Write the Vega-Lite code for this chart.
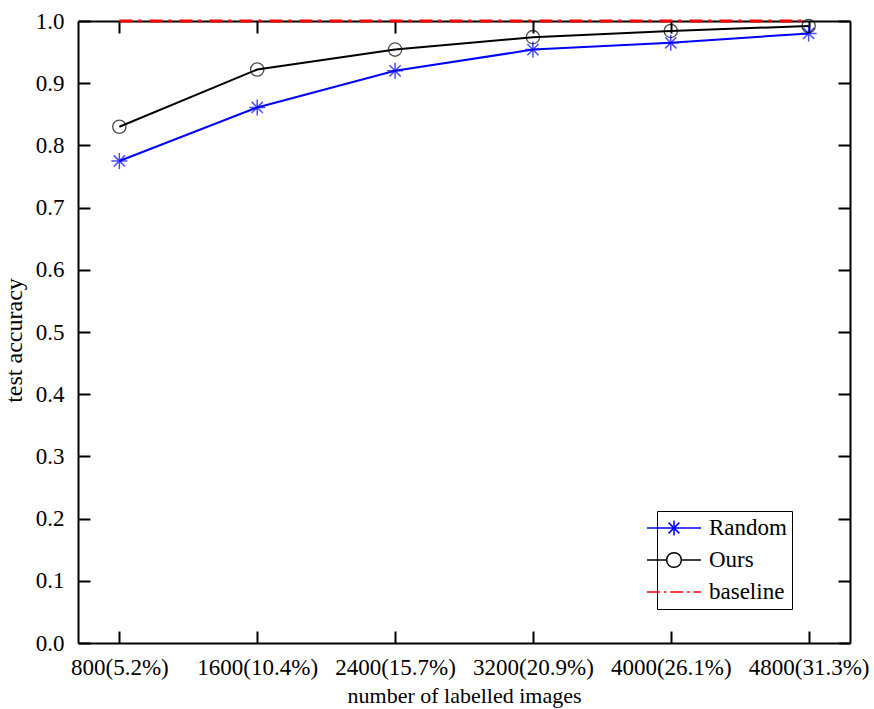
{
  "$schema": "https://vega.github.io/schema/vega-lite/v6.json",
  "width": 772,
  "height": 622,
  "autosize": "none",
  "padding": {"left": 78, "top": 21, "right": 24, "bottom": 66},
  "background": "white",
  "config": {
    "font": "Liberation Serif",
    "view": {"stroke": null},
    "axis": {
      "grid": false,
      "domainColor": "black",
      "domainWidth": 2,
      "tickColor": "black",
      "tickWidth": 2,
      "tickSize": -12,
      "labelFont": "Liberation Serif",
      "labelFontSize": 23,
      "labelColor": "black",
      "labelFlush": false,
      "labelOverlap": false,
      "labelBound": false,
      "titleFont": "Liberation Serif",
      "titleFontSize": 22,
      "titleFontWeight": "normal",
      "titleColor": "black"
    },
    "legend": {
      "orient": "none",
      "legendX": 579,
      "legendY": 490,
      "strokeColor": "black",
      "fillColor": "white",
      "padding": 5,
      "labelFont": "Liberation Serif",
      "labelFontSize": 23,
      "labelColor": "black",
      "symbolSize": 467,
      "symbolStrokeWidth": 1.5,
      "labelOffset": 23,
      "rowPadding": 8,
      "symbolOpacity": 1
    }
  },
  "data": {
    "values": [
      {"images": "800(5.2%)", "series": "Random", "accuracy": 0.775},
      {"images": "1600(10.4%)", "series": "Random", "accuracy": 0.861},
      {"images": "2400(15.7%)", "series": "Random", "accuracy": 0.920},
      {"images": "3200(20.9%)", "series": "Random", "accuracy": 0.954},
      {"images": "4000(26.1%)", "series": "Random", "accuracy": 0.965},
      {"images": "4800(31.3%)", "series": "Random", "accuracy": 0.980},
      {"images": "800(5.2%)", "series": "Ours", "accuracy": 0.830},
      {"images": "1600(10.4%)", "series": "Ours", "accuracy": 0.922},
      {"images": "2400(15.7%)", "series": "Ours", "accuracy": 0.954},
      {"images": "3200(20.9%)", "series": "Ours", "accuracy": 0.974},
      {"images": "4000(26.1%)", "series": "Ours", "accuracy": 0.984},
      {"images": "4800(31.3%)", "series": "Ours", "accuracy": 0.992},
      {"images": "800(5.2%)", "series": "baseline", "accuracy": 1.0},
      {"images": "1600(10.4%)", "series": "baseline", "accuracy": 1.0},
      {"images": "2400(15.7%)", "series": "baseline", "accuracy": 1.0},
      {"images": "3200(20.9%)", "series": "baseline", "accuracy": 1.0},
      {"images": "4000(26.1%)", "series": "baseline", "accuracy": 1.0},
      {"images": "4800(31.3%)", "series": "baseline", "accuracy": 1.0}
    ]
  },
  "resolve": {"axis": {"x": "independent", "y": "independent"}},
  "layer": [
    {
      "transform": [{"filter": "datum.series == 'baseline'"}],
      "mark": {"type": "line", "strokeWidth": 3, "color": "#ff0000", "strokeDash": [13, 6, 3, 8]},
      "encoding": {
        "x": {
          "field": "images", "type": "ordinal",
          "sort": ["800(5.2%)", "1600(10.4%)", "2400(15.7%)", "3200(20.9%)", "4000(26.1%)", "4800(31.3%)"],
          "scale": {"type": "point", "padding": 0.3},
          "axis": {"orient": "bottom", "labelAngle": 0, "labelPadding": 25, "title": "number of labelled images", "titlePadding": 6}
        },
        "y": {
          "field": "accuracy", "type": "quantitative",
          "scale": {"domain": [0, 1], "nice": false, "zero": true},
          "axis": {"orient": "left", "values": [0, 0.1, 0.2, 0.3, 0.4, 0.5, 0.6, 0.7, 0.8, 0.9, 1.0], "format": ".1f", "labelPadding": 26, "title": "test accuracy", "titleFontSize": 24, "titlePadding": 9, "titleY": 319}
        }
      }
    },
    {
      "transform": [{"filter": "datum.series == 'Random'"}],
      "mark": {"type": "line", "strokeWidth": 2, "color": "#0000ff"},
      "encoding": {
        "x": {"field": "images", "type": "ordinal", "sort": ["800(5.2%)", "1600(10.4%)", "2400(15.7%)", "3200(20.9%)", "4000(26.1%)", "4800(31.3%)"], "axis": null},
        "y": {"field": "accuracy", "type": "quantitative", "axis": null}
      }
    },
    {
      "transform": [{"filter": "datum.series == 'Ours'"}],
      "mark": {"type": "line", "strokeWidth": 2, "color": "#000000"},
      "encoding": {
        "x": {"field": "images", "type": "ordinal", "sort": ["800(5.2%)", "1600(10.4%)", "2400(15.7%)", "3200(20.9%)", "4000(26.1%)", "4800(31.3%)"], "axis": null},
        "y": {"field": "accuracy", "type": "quantitative", "axis": null}
      }
    },
    {
      "transform": [{"filter": "datum.series == 'Random'"}],
      "mark": {"type": "point", "filled": false, "color": "#0000ff", "strokeWidth": 1.5, "size": 256,
               "shape": "M-1,0H1M0,-1V1M-0.7,-0.7L0.7,0.7M-0.7,0.7L0.7,-0.7"},
      "encoding": {
        "x": {
          "field": "images", "type": "ordinal",
          "sort": ["800(5.2%)", "1600(10.4%)", "2400(15.7%)", "3200(20.9%)", "4000(26.1%)", "4800(31.3%)"],
          "axis": {"orient": "top", "labels": false, "title": null}
        },
        "y": {
          "field": "accuracy", "type": "quantitative",
          "axis": {"orient": "right", "labels": false, "title": null, "values": [0, 0.1, 0.2, 0.3, 0.4, 0.5, 0.6, 0.7, 0.8, 0.9, 1.0]}
        }
      }
    },
    {
      "transform": [{"filter": "datum.series == 'Ours'"}],
      "mark": {"type": "point", "filled": false, "color": "#000000", "strokeWidth": 1.3, "size": 177, "shape": "circle"},
      "encoding": {
        "x": {"field": "images", "type": "ordinal", "sort": ["800(5.2%)", "1600(10.4%)", "2400(15.7%)", "3200(20.9%)", "4000(26.1%)", "4800(31.3%)"], "axis": null},
        "y": {"field": "accuracy", "type": "quantitative", "axis": null}
      }
    },
    {
      "mark": {"type": "point", "filled": false, "strokeOpacity": 0},
      "encoding": {
        "x": {"field": "images", "type": "ordinal", "sort": ["800(5.2%)", "1600(10.4%)", "2400(15.7%)", "3200(20.9%)", "4000(26.1%)", "4800(31.3%)"], "axis": null},
        "y": {"field": "accuracy", "type": "quantitative", "axis": null},
        "color": {
          "field": "series", "type": "nominal",
          "scale": {"domain": ["Random", "Ours", "baseline"], "range": ["#0000ff", "#000000", "#ff0000"]},
          "legend": {"title": null}
        },
        "shape": {
          "field": "series", "type": "nominal",
          "scale": {"domain": ["Random", "Ours", "baseline"], "range": [
            "M-2.5,0H2.5M0,-0.69V0.69M-0.5,-0.5L0.5,0.5M-0.5,0.5L0.5,-0.5",
            "M-2.5,0H-0.68M0.68,0H2.5M-0.68,0A0.68,0.68,0,1,0,0.68,0A0.68,0.68,0,1,0,-0.68,0",
            "M-2.5,0H-1.3M-0.95,0H-0.7M-0.35,0H0.85M1.2,0H1.45M1.8,0H2.5"
          ]},
          "legend": {"title": null}
        }
      }
    }
  ]
}
